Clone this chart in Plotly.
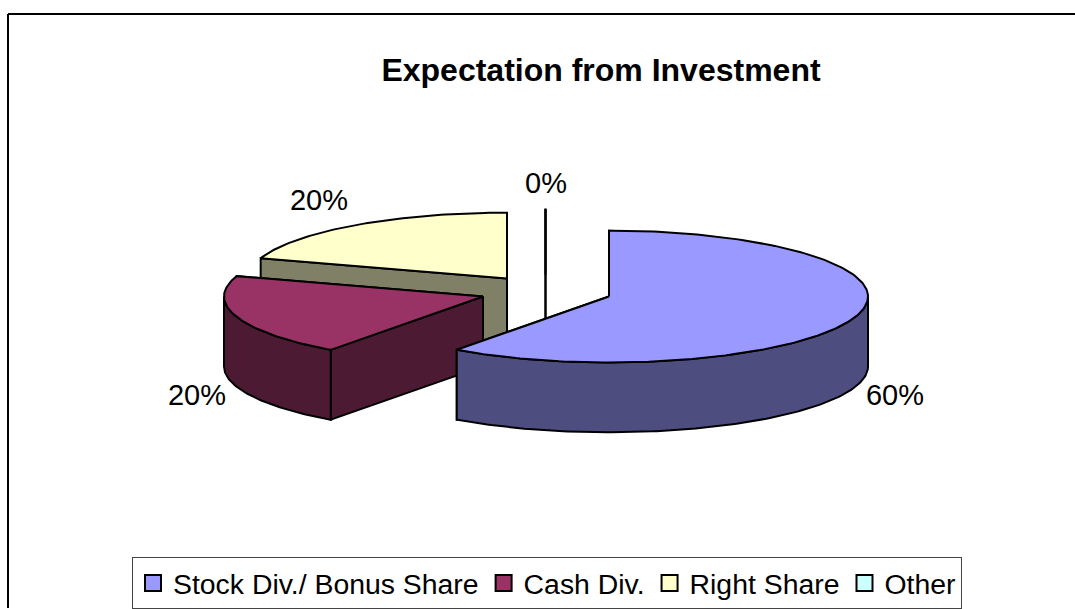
import numpy as np
import plotly.graph_objects as go

# Data
categories = ["Stock Div./ Bonus Share", "Cash Div.", "Right Share", "Other"]
values = [60, 20, 20, 0]
percent_labels = ["60%", "20%", "20%", "0%"]
title_text = "Expectation from Investment"

# Styles
top_colors = ["#9999FF", "#993366", "#FFFFCC", "#CCFFFF"]
side_colors = ["#4D4D80", "#4D1A33", "#808066", "#668080"]
apex_x = [609, 483, 507, 545.5]
apex_y = [297, 297, 279, 275]
label_x = [895, 197, 319, 546]
label_y = [398, 398, 203, 186]
RX, RY, DEPTH = 259, 66, 70
FONT = "Liberation Sans"


def rim(cx, cy, a0, a1, drop=0.0):
    n = max(2, int(abs(a1 - a0)) + 2)
    t = np.radians(np.linspace(a0, a1, n))
    return cx + RX * np.sin(t), cy - RY * np.cos(t) + drop


def poly(fig, xs, ys, color):
    fig.add_trace(go.Scatter(
        x=np.append(xs, xs[0]), y=np.append(ys, ys[0]), mode="lines", fill="toself",
        fillcolor=color, line=dict(color="black", width=2), showlegend=False, hoverinfo="skip",
    ))


fig = go.Figure()
total = sum(values)
angles = np.concatenate([[0], np.cumsum(values) / total * 360])

# Painted back to front: Other, Right Share, Cash Div., Stock Div.
for i in [3, 2, 1, 0]:
    a0, a1 = angles[i], angles[i + 1]
    cx, cy = apex_x[i], apex_y[i]
    # radial walls, rear edge first
    walls = sorted([a0, a1], key=lambda a: -np.cos(np.radians(a)))
    for a in walls:
        ex, ey = rim(cx, cy, a, a)
        ex, ey = ex[0], ey[0]
        poly(fig, np.array([cx, ex, ex, cx]), np.array([cy, ey, ey + DEPTH, cy + DEPTH]), side_colors[i])
    # outer wall: only the part of the rim that faces the viewer
    f0, f1 = max(a0, 90), min(a1, 270)
    if f1 > f0:
        tx, ty = rim(cx, cy, f0, f1)
        bx, by = rim(cx, cy, f1, f0, DEPTH)
        poly(fig, np.concatenate([tx, bx]), np.concatenate([ty, by]), side_colors[i])
    # top face
    tx, ty = rim(cx, cy, a0, a1)
    poly(fig, np.concatenate([[cx], tx]), np.concatenate([[cy], ty]), top_colors[i])

# Legend entries
for name, color in zip(categories, top_colors):
    fig.add_trace(go.Scatter(
        x=[None], y=[None], mode="markers", name=name,
        marker=dict(symbol="square", size=16, color=color, line=dict(color="black", width=2)),
    ))

# Percent labels
fig.add_trace(go.Scatter(
    x=label_x, y=label_y, mode="text", text=percent_labels, textposition="middle center",
    textfont=dict(family=FONT, size=29, color="black"), showlegend=False, hoverinfo="skip",
))

fig.update_layout(
    width=1075, height=609, margin=dict(l=0, r=0, t=0, b=0),
    paper_bgcolor="white", plot_bgcolor="white",
    xaxis=dict(range=[0, 1075], visible=False, fixedrange=True),
    yaxis=dict(range=[609, 0], visible=False, fixedrange=True),
    font=dict(family=FONT, color="black"),
    title=dict(text=f"<b>{title_text}</b>", x=601 / 1075, y=1 - 70 / 609, xanchor="center", yanchor="middle",
               font=dict(family=FONT, size=32, color="black")),
    legend=dict(orientation="h", x=132 / 1075, y=1 - 557.5 / 609, xanchor="left", yanchor="top",
                bgcolor="white", bordercolor="#444444", borderwidth=1,
                font=dict(family=FONT, size=28.4, color="black"), itemclick=False, itemdoubleclick=False),
    shapes=[
        dict(type="line", xref="x", yref="y", x0=8, x1=8, y0=14, y1=609, line=dict(color="black", width=2)),
        dict(type="line", xref="x", yref="y", x0=8, x1=1075, y0=14, y1=14, line=dict(color="black", width=2)),
    ],
)
fig.write_html("out.html", config={"displayModeBar": False},
               post_script="document.body.style.margin='0';document.documentElement.style.overflow='hidden';")
